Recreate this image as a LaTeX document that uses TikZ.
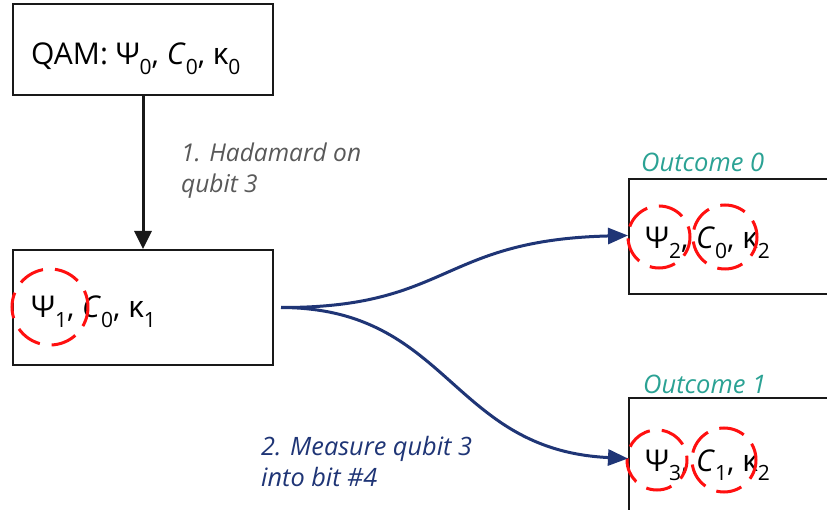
\documentclass[tikz,border=0pt]{standalone}
\usepackage{fontspec}
\setmainfont{Open Sans}
\usetikzlibrary{arrows.meta}
\definecolor{navy}{HTML}{1F3576}
\definecolor{teal2}{HTML}{2BA294}
\definecolor{redc}{HTML}{FF1010}
\definecolor{grayl}{HTML}{595959}
\newcommand\lo[1]{\raisebox{-0.32em}{\fontsize{21}{21}\selectfont #1}}
\tikzset{
  box/.style={draw=black!90, line width=2pt, minimum width=260pt, inner sep=0pt},
  maintxt/.style={font=\fontsize{30}{30}\selectfont, inner sep=0pt},
  lbl/.style={align=left, inner sep=0pt, anchor=base west},
  ring/.style={draw=redc, line width=3pt, dash pattern=on 26pt off 12pt, dash phase=6pt},
  blk/.style={draw=black!90, line width=3pt, -{Triangle[length=18pt,width=17pt]}},
  blu/.style={draw=navy, line width=3pt, -{Triangle[length=20pt,width=16pt]}}
}
\begin{document}
\begin{tikzpicture}[x=1pt,y=-1pt]
\useasboundingbox (0,0) rectangle (827,510);
\clip (0,0) rectangle (827,510);
\fill[white] (0,0) rectangle (827,510);
% boxes
\node[box, minimum height=91pt] (top) at (143,49.5) {};
\node[box, minimum height=115pt] (mid) at (143,307.5) {};
\node[box, minimum height=115pt, minimum width=240pt, anchor=north west] (o0) at (628,178) {};
\node[box, minimum height=118pt, minimum width=240pt, anchor=north west] (o1) at (628,397) {};
% texts
\node[maintxt, anchor=base west] (t0) at (31,65) {QAM: Ψ\lo{0}, \textit{C}\lo{0}, κ\lo{0}};
\node[maintxt, anchor=base west] (t1) at (31,318) {Ψ\lo{1}, \textit{C}\lo{0}, κ\lo{1}};
\node[maintxt, anchor=base west] (t2) at (645,249) {Ψ\lo{2}, \textit{C}\lo{0}, κ\lo{2}};
\node[maintxt, anchor=base west] (t3) at (645,471) {Ψ\lo{3}, \textit{C}\lo{1}, κ\lo{2}};
% rings
\draw[ring] (50,307) circle[radius=38];
\draw[ring] (659,237) circle[radius=31];
\draw[ring] (725,237) circle[radius=32];
\draw[ring] (657,460) circle[radius=30];
\draw[ring] (724,460) circle[radius=32];
% labels
\node[lbl, text=grayl, font=\fontsize{24.5}{31}\selectfont\itshape] (l1) at (181,193) {1. Hadamard on\\qubit 3};
\node[lbl, text=navy, font=\fontsize{25.3}{31}\selectfont\itshape] (l2) at (261,486) {2. Measure qubit 3\\into bit \#4};
\node[lbl, text=teal2, font=\fontsize{25.5}{30}\selectfont\itshape] (lo0) at (641,172) {Outcome 0};
\node[lbl, text=teal2, font=\fontsize{25.5}{30}\selectfont\itshape] (lo1) at (643,393) {Outcome 1};
% connectors
\coordinate (start) at ([xshift=7pt]mid.east);
\draw[blk] (top.south) -- (mid.north);
\draw[blu] (start) .. controls (450,308) and (440,240) .. ([yshift=1pt]o0.west);
\draw[blu] (start) .. controls (450,308) and (450,450) .. ([yshift=-1.5pt]o1.west);
\end{tikzpicture}
\end{document}
